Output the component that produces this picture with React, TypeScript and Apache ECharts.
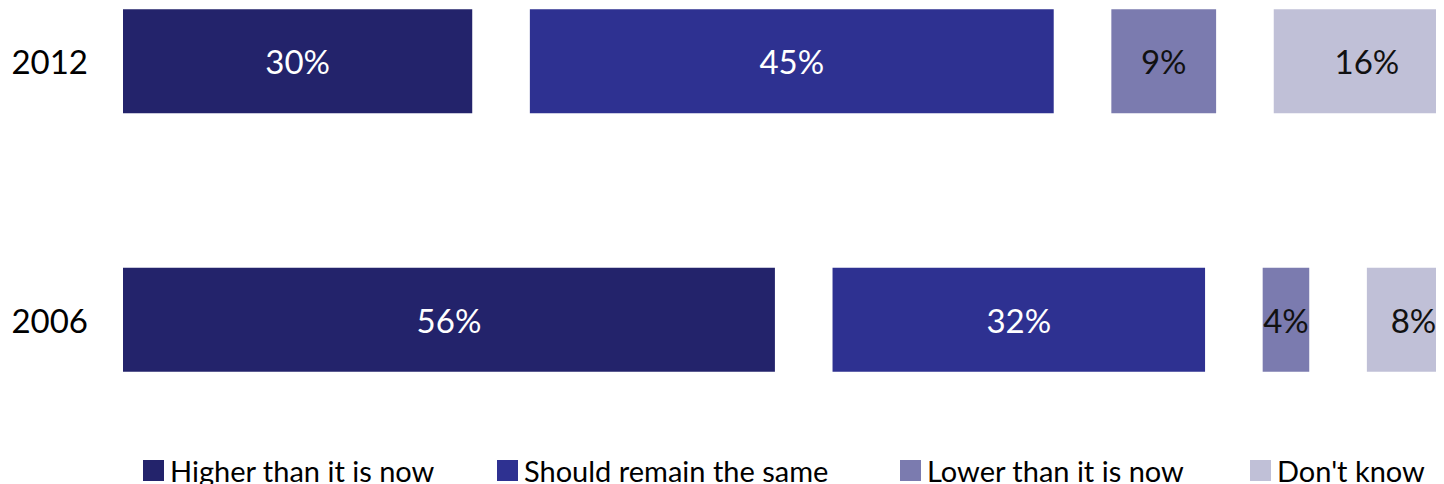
import React, { useEffect, useRef } from "react";
import * as echarts from "echarts";

const categories = ["2012", "2006"];
const seriesNames = ["Higher than it is now", "Should remain the same", "Lower than it is now", "Don't know"];
const higher = [30, 56];
const same = [45, 32];
const lower = [9, 4];
const dontKnow = [16, 8];
const colors = ["#23236B", "#2E3191", "#7B7BAF", "#C0C0D7"];
const labelColors = ["#ffffff", "#ffffff", "#111111", "#111111"];
const legendLefts = [143, 497, 900, 1250];
const GAP = 4.95;

export default function App() {
  const ref = useRef<HTMLDivElement>(null);
  useEffect(() => {
    if (!ref.current) return;
    const chart = echarts.init(ref.current, undefined, { renderer: "svg" });
    const values = [higher, same, lower, dontKnow];
    const series: any[] = [];
    values.forEach((vals, i) => {
      series.push({
        name: seriesNames[i],
        type: "bar",
        stack: "total",
        barWidth: 104,
        data: vals,
        itemStyle: { color: colors[i] },
        label: {
          show: true,
          position: "inside",
          formatter: "{c}%",
          color: labelColors[i],
          fontFamily: "Lato",
          fontSize: 33,
        },
      });
      if (i < values.length - 1) {
        series.push({
          name: "gap" + i,
          type: "bar",
          stack: "total",
          barWidth: 104,
          data: categories.map(() => GAP),
          itemStyle: { color: "rgba(0,0,0,0)" },
          label: { show: false },
          silent: true,
        });
      }
    });
    chart.setOption({
      animation: false,
      grid: { left: 123, width: 1337, top: -68, height: 517, outerBoundsMode: "none", containLabel: false },
      xAxis: {
        type: "value",
        min: 0,
        max: 100 + GAP * 3,
        show: false,
      },
      yAxis: {
        type: "category",
        data: categories,
        inverse: true,
        axisLine: { show: false },
        axisTick: { show: false },
        axisLabel: { fontFamily: "Lato", fontSize: 33, color: "#000", margin: 35 },
      },
      legend: seriesNames.map((name, i) => ({
        data: [name],
        left: legendLefts[i],
        top: 456,
        padding: 0,
        itemWidth: 21,
        itemHeight: 21,
        icon: "rect",
        selectedMode: false,
        textStyle: { fontFamily: "Lato", fontSize: 29, color: "#000", padding: [0, 0, 0, 1] },
      })),
      series,
    });
    return () => chart.dispose();
  }, []);
  return <div ref={ref} style={{ width: 1444, height: 484, marginLeft: -8, marginTop: -8 }} />;
}
